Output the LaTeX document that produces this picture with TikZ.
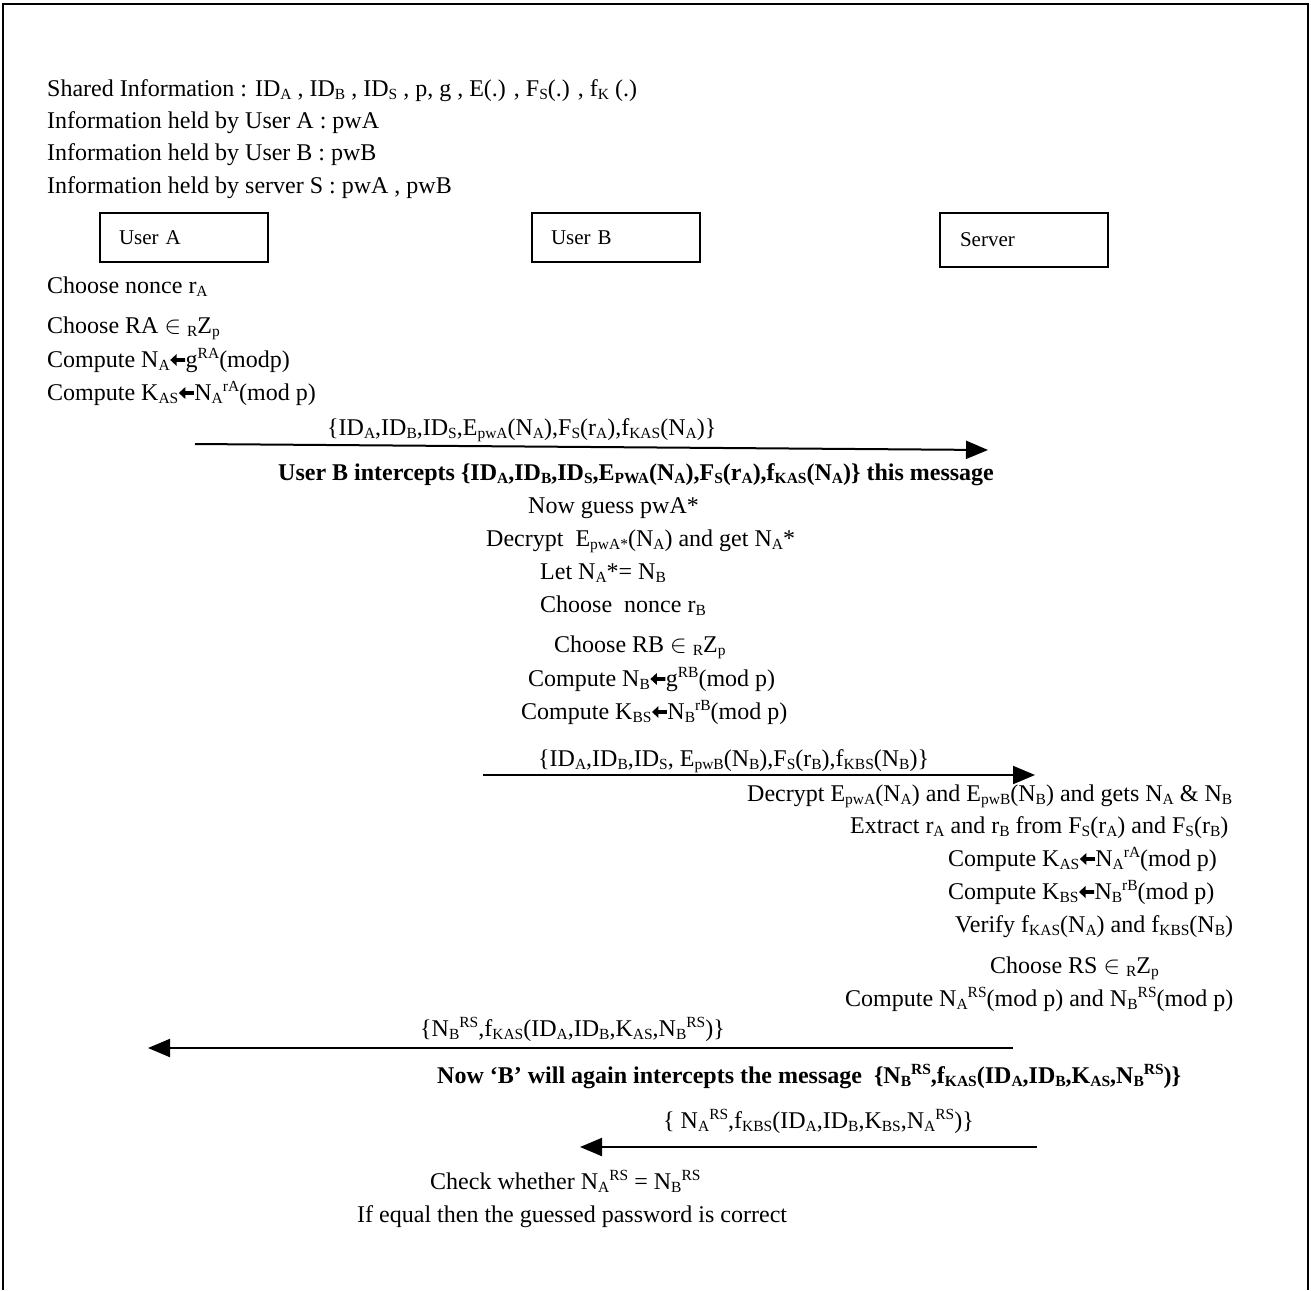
\documentclass[tikz,border=0pt]{standalone}
\usepackage{fontspec}
\setmainfont{Liberation Serif}
\usetikzlibrary{arrows.meta}
\newcommand\sbx[1]{\raisebox{-3pt}{\fontsize{15.5}{15.5}\selectfont #1}}
\newcommand\spx[1]{\raisebox{8.5pt}{\fontsize{15.5}{15.5}\selectfont #1}}
\newcommand\larr{\hspace{0.5pt}\tikz[baseline=0pt,x=1pt,y=1pt]{\fill (0,7) -- (6.5,13) -- (6.5,8.8) -- (15,8.8) -- (15,5.2) -- (6.5,5.2) -- (6.5,1) -- cycle;}\hspace{0.5pt}}
\newcommand\inR{$\in$\ \sbx{R}Z\sbx{p}}
\tikzset{
  txt/.style={anchor=base west, inner sep=0pt, font=\fontsize{24}{24}\selectfont},
  btxt/.style={anchor=base west, inner sep=0pt, font=\fontsize{24}{24}\selectfont\bfseries},
  actor/.style={draw, line width=1.6pt, minimum height=49pt, text width=130pt,
    inner xsep=19pt, inner ysep=0pt, align=left, font=\fontsize{21}{21}\selectfont},
  msg/.style={line width=2pt, -{Triangle[length=22pt,width=18pt]}},
  frameline/.style={line width=2pt}
}
\begin{document}
\begin{tikzpicture}[x=1pt,y=-1pt]
\useasboundingbox (0,0) rectangle (1311,1290);
\draw[frameline] (3,1290) -- (3,4) -- (1308,4) -- (1308,1290);

% shared information
\node[txt] (shared) at (47,96) {Shared Information : ID\sbx{A} , ID\sbx{B} , ID\sbx{S} , p, g , E(.) , F\sbx{S}(.) , f\sbx{K} (.)};
\node[txt] (infoA) at (47,128) {Information held by User A : pwA};
\node[txt] (infoB) at (47,160) {Information held by User B : pwB};
\node[txt] (infoS) at (47,193) {Information held by server S : pwA , pwB};

% actors
\node[actor] (userA) at (184,237.5) {User A};
\node[actor] (userB) at (616,237.5) {User B};
\node[actor, minimum height=54pt, inner xsep=20pt, text width=128pt] (server) at (1024,240) {Server};

% user A steps
\node[txt] (a1) at (47,293) {Choose nonce r\sbx{A}};
\node[txt] (a2) at (47,333) {Choose RA \inR};
\node[txt] (a3) at (47,367) {Compute N\sbx{A}\larr g\spx{RA}(modp)};
\node[txt] (a4) at (47,400) {Compute K\sbx{AS}\larr N\sbx{A}\spx{rA}(mod p)};

% message 1
\node[txt] (m1) at (327,435) {\{ID\sbx{A},ID\sbx{B},ID\sbx{S},E\sbx{pwA}(N\sbx{A}),F\sbx{S}(r\sbx{A}),f\sbx{KAS}(N\sbx{A})\}};
\coordinate (m1s) at (195,444);
\coordinate (m1e) at (988,450);
\draw[msg] (m1s) -- (m1e);
\node[btxt] (i1) at (278,480) {User B intercepts \{ID\sbx{A},ID\sbx{B},ID\sbx{S},E\sbx{PWA}(N\sbx{A}),F\sbx{S}(r\sbx{A}),f\sbx{KAS}(N\sbx{A})\} this message};

% user B steps
\node[txt] (b1) at (528,513) {Now guess pwA*};
\node[txt] (b2) at (486,546) {Decrypt\ \ E\sbx{pwA*}(N\sbx{A}) and get N\sbx{A}*};
\node[txt] (b3) at (540,579) {Let N\sbx{A}*= N\sbx{B}};
\node[txt] (b4) at (540,612) {Choose\ \ nonce r\sbx{B}};
\node[txt] (b5) at (554,652) {Choose RB \inR};
\node[txt] (b6) at (528,686) {Compute N\sbx{B}\larr g\spx{RB}(mod p)};
\node[txt] (b7) at (521,719) {Compute K\sbx{BS}\larr N\sbx{B}\spx{rB}(mod p)};

% message 2
\node[txt] (m2) at (538,766) {\{ID\sbx{A},ID\sbx{B},ID\sbx{S}, E\sbx{pwB}(N\sbx{B}),F\sbx{S}(r\sbx{B}),f\sbx{KBS}(N\sbx{B})\}};
\coordinate (m2s) at (483,775);
\coordinate (m2e) at (1035,775);
\draw[msg] (m2s) -- (m2e);

% server steps
\node[txt] (s1) at (747,801) {Decrypt E\sbx{pwA}(N\sbx{A}) and E\sbx{pwB}(N\sbx{B}) and gets N\sbx{A} \& N\sbx{B}};
\node[txt] (s2) at (850,833) {Extract r\sbx{A} and r\sbx{B} from F\sbx{S}(r\sbx{A}) and F\sbx{S}(r\sbx{B})};
\node[txt] (s3) at (948,866) {Compute K\sbx{AS}\larr N\sbx{A}\spx{rA}(mod p)};
\node[txt] (s4) at (948,899) {Compute K\sbx{BS}\larr N\sbx{B}\spx{rB}(mod p)};
\node[txt] (s5) at (955,932) {Verify f\sbx{KAS}(N\sbx{A}) and f\sbx{KBS}(N\sbx{B})};
\node[txt] (s6) at (990,973) {Choose RS \inR};
\node[txt] (s7) at (845,1006) {Compute N\sbx{A}\spx{RS}(mod p) and N\sbx{B}\spx{RS}(mod p)};

% message 3
\node[txt] (m3) at (420,1036) {\{N\sbx{B}\spx{RS},f\sbx{KAS}(ID\sbx{A},ID\sbx{B},K\sbx{AS},N\sbx{B}\spx{RS})\}};
\coordinate (m3s) at (1013,1048);
\coordinate (m3e) at (148,1048);
\draw[msg] (m3s) -- (m3e);
\node[btxt] (i2) at (437,1083) {Now ‘B’ will again intercepts the message\ \ \{N\sbx{B}\spx{RS},f\sbx{KAS}(ID\sbx{A},ID\sbx{B},K\sbx{AS},N\sbx{B}\spx{RS})\}};

% message 4
\node[txt] (m4) at (663,1128) {\{ N\sbx{A}\spx{RS},f\sbx{KBS}(ID\sbx{A},ID\sbx{B},K\sbx{BS},N\sbx{A}\spx{RS})\}};
\coordinate (m4s) at (1037,1147);
\coordinate (m4e) at (580,1147);
\draw[msg] (m4s) -- (m4e);

% final check
\node[txt] (c1) at (430,1189) {Check whether N\sbx{A}\spx{RS} = N\sbx{B}\spx{RS}};
\node[txt] (c2) at (357,1222) {If equal then the guessed password is correct};
\end{tikzpicture}
\end{document}
